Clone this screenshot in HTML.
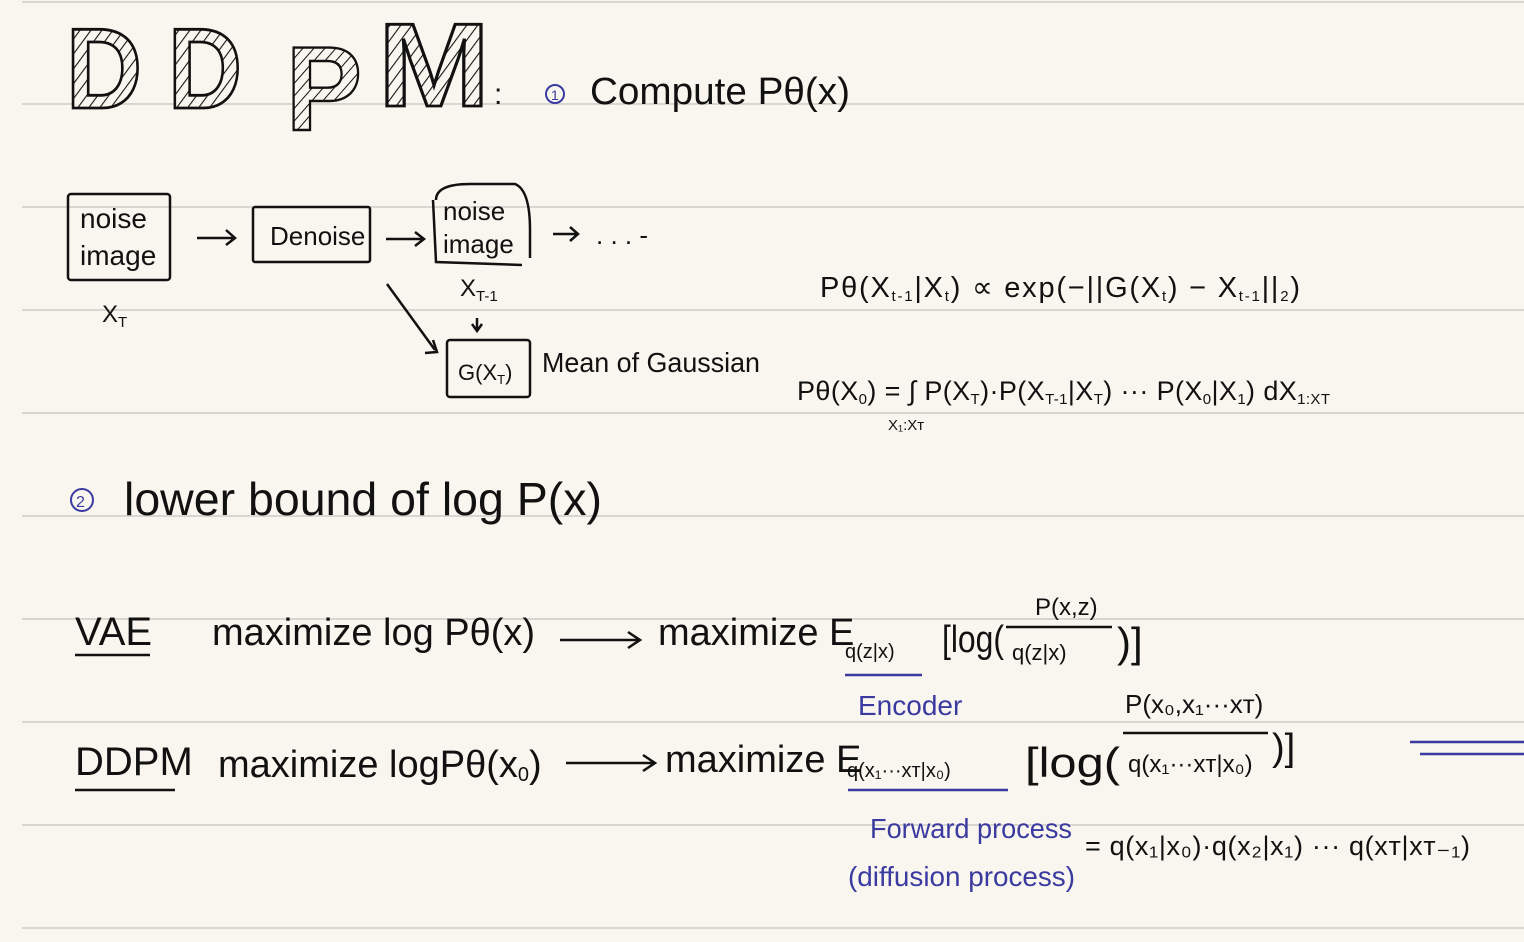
<!DOCTYPE html>
<html><head><meta charset="utf-8"><style>
html,body{margin:0;padding:0;background:#f8f6ee;}
svg{display:block}
text{font-family:"Liberation Sans",sans-serif;fill:#111;}
.b{fill:#3a3aa0}
</style></head><body>
<svg width="1524" height="942" viewBox="0 0 1524 942">
<defs>
<pattern id="h" width="9" height="9" patternUnits="userSpaceOnUse" patternTransform="rotate(35)">
<rect width="9" height="9" fill="#f8f6ee"/><line x1="0" y1="0" x2="0" y2="9" stroke="#111" stroke-width="2.2"/>
</pattern>
</defs>
<rect width="1524" height="942" fill="#f8f6ee"/>
<g stroke="#cdccc6" stroke-width="1.6">
<line x1="22" y1="2" x2="1524" y2="2"/>
<line x1="22" y1="104" x2="1524" y2="104"/>
<line x1="22" y1="207" x2="1524" y2="207"/>
<line x1="22" y1="310" x2="1524" y2="310"/>
<line x1="22" y1="413" x2="1524" y2="413"/>
<line x1="22" y1="516" x2="1524" y2="516"/>
<line x1="22" y1="619" x2="1524" y2="619"/>
<line x1="22" y1="722" x2="1524" y2="722"/>
<line x1="22" y1="825" x2="1524" y2="825"/>
<line x1="22" y1="928" x2="1524" y2="928"/>
</g>
<!-- Title -->
<g font-weight="bold" stroke="#111" stroke-width="3">
<text x="66" y="0" font-size="120" transform="translate(0,108) scale(1,0.95)" textLength="76" lengthAdjust="spacingAndGlyphs" style="fill:url(#h)">D</text>
<text x="168" y="0" font-size="120" transform="translate(0,108) scale(1,0.95)" textLength="74" lengthAdjust="spacingAndGlyphs" style="fill:url(#h)">D</text>
<text x="286" y="0" font-size="150" transform="translate(0,130) scale(1,0.8)" textLength="76" lengthAdjust="spacingAndGlyphs" style="fill:url(#h)">P</text>
<text x="378" y="0" font-size="125" transform="translate(0,106) scale(1,0.95)" textLength="112" lengthAdjust="spacingAndGlyphs" style="fill:url(#h)">M</text>
</g>
<text x="494" y="104" font-size="30">:</text>
<circle cx="555" cy="94" r="9" fill="none" stroke="#3a3aa0" stroke-width="2"/>
<text x="551" y="100" font-size="14" class="b">1</text>
<text x="590" y="104" font-size="38" textLength="260" lengthAdjust="spacingAndGlyphs">Compute Pθ(x)</text>

<!-- Boxes -->
<g fill="none" stroke="#111" stroke-width="2.5">
<rect x="68" y="194" width="102" height="86" rx="3"/>
<rect x="253" y="207" width="117" height="55" rx="2"/>
<path d="M436 200 Q436 184 470 184 L515 184 Q530 190 530 230 L530 258 M433 200 L436 262 L522 265"/>
<rect x="447" y="340" width="83" height="57" rx="3"/>
<path d="M197 238 L235 238 M226 230 L235 238 L226 245"/>
<path d="M386 239 L424 239 M415 232 L424 239 L415 246"/>
<path d="M553 234 L578 234 M570 227 L578 234 L570 241"/>
<path d="M387 284 L435 350 M425 353 L437 352 L433 340"/>
<path d="M477 318 L477 330 M472 324 L477 331 L482 324"/>
</g>
<text x="80" y="228" font-size="28">noise</text>
<text x="80" y="265" font-size="28">image</text>
<text x="270" y="245" font-size="26">Denoise</text>
<text x="443" y="220" font-size="26">noise</text>
<text x="443" y="253" font-size="26">image</text>
<text x="596" y="244" font-size="26">. . .  -</text>
<text x="102" y="322" font-size="24">X<tspan font-size="15" dy="5">T</tspan></text>
<text x="460" y="296" font-size="24">X<tspan font-size="15" dy="5">T-1</tspan></text>
<text x="458" y="380" font-size="22">G(X<tspan font-size="13" dy="4">T</tspan><tspan dy="-4">)</tspan></text>
<text x="542" y="372" font-size="28" textLength="218" lengthAdjust="spacingAndGlyphs">Mean of Gaussian</text>

<text x="820" y="297" font-size="29" textLength="480" lengthAdjust="spacing">Pθ(X<tspan font-size="15" dy="4">t-1</tspan><tspan dy="-4">|X</tspan><tspan font-size="15" dy="4">t</tspan><tspan dy="-4">) ∝ exp(−||G(X</tspan><tspan font-size="15" dy="4">t</tspan><tspan dy="-4">) − X</tspan><tspan font-size="15" dy="4">t-1</tspan><tspan dy="-4">||</tspan><tspan font-size="15" dy="4">2</tspan><tspan dy="-4">)</tspan></text>
<text x="797" y="400" font-size="27" textLength="533" lengthAdjust="spacing">Pθ(X<tspan font-size="15" dy="4">0</tspan><tspan dy="-4">) = ∫ P(X</tspan><tspan font-size="15" dy="4">T</tspan><tspan dy="-4">)·P(X</tspan><tspan font-size="15" dy="4">T-1</tspan><tspan dy="-4">|X</tspan><tspan font-size="15" dy="4">T</tspan><tspan dy="-4">) ··· P(X</tspan><tspan font-size="15" dy="4">0</tspan><tspan dy="-4">|X</tspan><tspan font-size="15" dy="4">1</tspan><tspan dy="-4">) dX</tspan><tspan font-size="15" dy="4">1:XT</tspan></text>
<text x="888" y="430" font-size="15">X₁:Xᴛ</text>

<!-- Section 2 -->
<circle cx="82" cy="500" r="11" fill="none" stroke="#3a3aa0" stroke-width="2"/>
<text x="76" y="507" font-size="16" class="b">2</text>
<text x="124" y="515" font-size="46" textLength="478" lengthAdjust="spacingAndGlyphs">lower bound of log P(x)</text>

<text x="75" y="645" font-size="40">VAE</text>
<line x1="75" y1="655" x2="150" y2="655" stroke="#111" stroke-width="2.5"/>
<text x="212" y="645" font-size="38">maximize log Pθ(x)</text>
<g fill="none" stroke="#111" stroke-width="2.5">
<path d="M560 640 L640 640 M628 632 L640 640 L628 648"/>
<path d="M566 763 L655 763 M643 755 L655 763 L643 771"/>
<line x1="1006" y1="627" x2="1112" y2="627"/>
<line x1="1123" y1="733" x2="1268" y2="733"/>
</g>
<text x="658" y="645" font-size="38">maximize E</text>
<text x="845" y="658" font-size="20">q(z|x)</text>
<line x1="845" y1="675" x2="922" y2="675" stroke="#3a3aa0" stroke-width="2.5"/>
<text x="942" y="652" font-size="38" textLength="62" lengthAdjust="spacingAndGlyphs">[log(</text>
<text x="1035" y="615" font-size="24">P(x,z)</text>
<text x="1012" y="660" font-size="22">q(z|x)</text>
<text x="1117" y="657" font-size="42">)]</text>

<text x="858" y="715" font-size="28" class="b">Encoder</text>

<text x="75" y="775" font-size="40">DDPM</text>
<line x1="75" y1="790" x2="175" y2="790" stroke="#111" stroke-width="2.5"/>
<text x="218" y="777" font-size="38">maximize logPθ(x<tspan font-size="20" dy="4">0</tspan><tspan dy="-4">)</tspan></text>
<text x="665" y="772" font-size="38">maximize E</text>
<text x="847" y="777" font-size="20">q(x₁···xᴛ|x₀)</text>
<line x1="848" y1="790" x2="1008" y2="790" stroke="#3a3aa0" stroke-width="2.5"/>
<text x="1025" y="777" font-size="42" textLength="95" lengthAdjust="spacingAndGlyphs">[log(</text>
<text x="1125" y="713" font-size="26">P(x₀,x₁···xᴛ)</text>
<text x="1128" y="772" font-size="24">q(x₁···xᴛ|x₀)</text>
<text x="1272" y="760" font-size="38">)]</text>
<line x1="1410" y1="742" x2="1524" y2="742" stroke="#3a3aa0" stroke-width="2.5"/>
<line x1="1420" y1="754" x2="1524" y2="754" stroke="#3a3aa0" stroke-width="2.5"/>

<text x="870" y="838" font-size="28" class="b" textLength="202" lengthAdjust="spacingAndGlyphs">Forward process</text>
<text x="848" y="886" font-size="28" class="b" textLength="227" lengthAdjust="spacingAndGlyphs">(diffusion process)</text>
<text x="1085" y="855" font-size="27" textLength="385" lengthAdjust="spacing">= q(x₁|x₀)·q(x₂|x₁) ··· q(xᴛ|xᴛ₋₁)</text>
</svg>
</body></html>
